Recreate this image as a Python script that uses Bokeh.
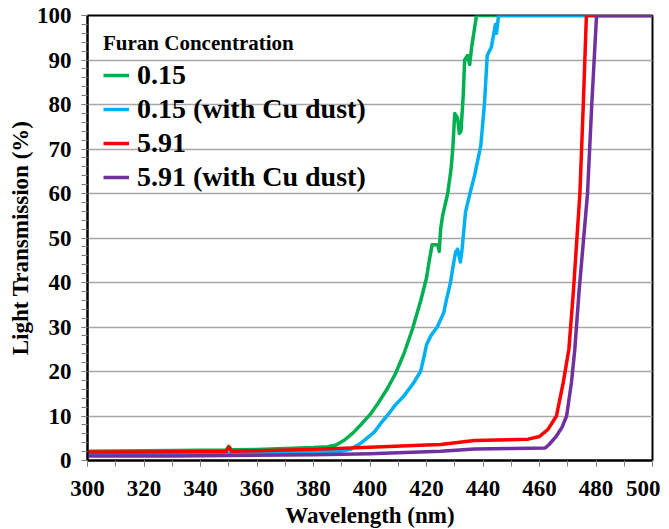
from bokeh.plotting import figure
from bokeh.models import Range1d, SingleIntervalTicker, Legend, LegendItem
from bokeh.embed import file_html
from bokeh.resources import INLINE

# ---- data ----
green_x = [300, 320, 340, 349, 350, 351, 360, 370, 380, 385, 388, 391, 394, 397, 400, 403, 406, 409, 412, 415,
           418, 420, 421, 422, 424, 424.5, 425, 425.7, 427.5, 428.7, 429.3, 430, 431, 431.6, 432.2, 433, 433.5,
           434.5, 435.3, 436, 437.7, 500]
green_y = [2.1, 2.2, 2.3, 2.3, 3.2, 2.4, 2.5, 2.7, 2.9, 3.1, 3.5, 4.6, 6.2, 8.2, 10.3, 13, 16, 19.5, 24, 29.5,
           36, 41, 45, 48.5, 48.5, 47, 52, 55, 60, 65.5, 70, 78, 77, 73.5, 74, 82, 90,
           91, 89, 93, 100, 100]

blue_x = [300, 350, 380, 390, 393, 397, 401.4, 404, 406, 409, 412, 415.5, 417.9, 419, 420, 421.5, 423.8, 426.1,
          427, 428.5, 429.5, 430.3, 431, 432, 432.6, 433.8, 435.6, 437, 439.2, 440.5, 441.5, 443, 444.4, 444.8,
          445.5, 500]
blue_y = [1.6, 1.7, 1.9, 2.1, 2.5, 4, 6.3, 8.5, 10, 12.5, 14.5, 17.5, 20, 23, 26, 28, 30, 33.2,
          36, 40, 44, 46.8, 47.5, 44.6, 47.5, 55.8, 60.6, 64, 70.7, 80, 91, 93, 98, 96,
          100, 100]

red_x = [300, 320, 340, 349, 350, 351, 360, 380, 400, 420, 425, 437, 445, 456, 460, 463, 466, 468.4, 470.4,
         472, 474.3, 475.5, 476.6, 500]
red_y = [1.9, 1.9, 2.0, 2.0, 3.0, 2.1, 2.2, 2.5, 3.0, 3.5, 3.6, 4.5, 4.6, 4.8, 5.4, 7, 10, 17.5, 25,
         38, 60, 80, 100, 100]

purple_x = [300, 330, 350, 380, 400, 425, 437, 450, 462, 463.4, 466, 468, 469.6, 471.3, 472.5, 474, 477,
            478.5, 480.2, 500]
purple_y = [1.0, 1.0, 1.1, 1.3, 1.5, 2.1, 2.6, 2.7, 2.8, 3.6, 5.5, 7.5, 10, 17.5, 25, 38, 60,
            80, 100, 100]

series_labels = ["0.15", "0.15 (with Cu dust)", "5.91", "5.91 (with Cu dust)"]
series_colors = ["#00B050", "#00B0F0", "#FF0000", "#7030A0"]

FONT = "Liberation Serif"

p = figure(frame_width=565, frame_height=445,
           x_range=Range1d(300, 500), y_range=Range1d(0, 100),
           output_backend="svg", toolbar_location=None,
           min_border_left=87, min_border_top=15, min_border_right=8, min_border_bottom=40)

p.outline_line_color = "black"
p.outline_line_width = 2
p.xgrid.visible = False
p.ygrid.grid_line_color = "#a6a6a6"
p.ygrid.grid_line_width = 1.5

p.xaxis.ticker = SingleIntervalTicker(interval=20, num_minor_ticks=2)
p.yaxis.ticker = SingleIntervalTicker(interval=10, num_minor_ticks=5)

for ax in (p.xaxis, p.yaxis):
    ax.axis_line_color = "black"
    ax.axis_line_width = 2
    ax.major_tick_line_color = "#808080"
    ax.minor_tick_line_color = "#808080"
    ax.major_tick_in = 0
    ax.major_tick_out = 6
    ax.minor_tick_in = 0
    ax.minor_tick_out = 6
    ax.major_label_text_font = FONT
    ax.major_label_text_font_style = "bold"
    ax.major_label_text_font_size = "23px"
    ax.major_label_text_color = "black"
    ax.axis_label_text_font = FONT
    ax.axis_label_text_font_style = "bold"
    ax.axis_label_text_font_size = "23px"
    ax.axis_label_text_color = "black"

p.xaxis.axis_label = "Wavelength (nm)"
p.yaxis.axis_label = "Light Transmission (%)"
p.xaxis.major_label_standoff = 14
p.yaxis.major_label_standoff = 10
p.xaxis.axis_label_standoff = 4
p.yaxis.axis_label_standoff = 1

renderers = []
for xs, ys, c in zip([green_x, blue_x, red_x, purple_x], [green_y, blue_y, red_y, purple_y], series_colors):
    r = p.line(xs, ys, line_width=3.5, line_color=c, line_join="round")
    renderers.append(r)

legend = Legend(items=[LegendItem(label=l, renderers=[r]) for l, r in zip(series_labels, renderers)],
                location="top_left", title="Furan Concentration")
legend.title_text_font = FONT
legend.title_text_font_style = "bold"
legend.title_text_font_size = "21px"
legend.title_text_color = "black"
legend.title_standoff = 3
legend.label_text_font = FONT
legend.label_text_font_style = "bold"
legend.label_text_font_size = "28px"
legend.label_text_color = "black"
legend.border_line_color = None
legend.background_fill_alpha = 0
legend.margin = 16
legend.padding = 10
legend.glyph_width = 26
legend.glyph_height = 24
legend.label_height = 24
legend.spacing = 2
legend.label_standoff = 8
p.add_layout(legend)

open("out.html", "w").write(file_html(p, INLINE))
